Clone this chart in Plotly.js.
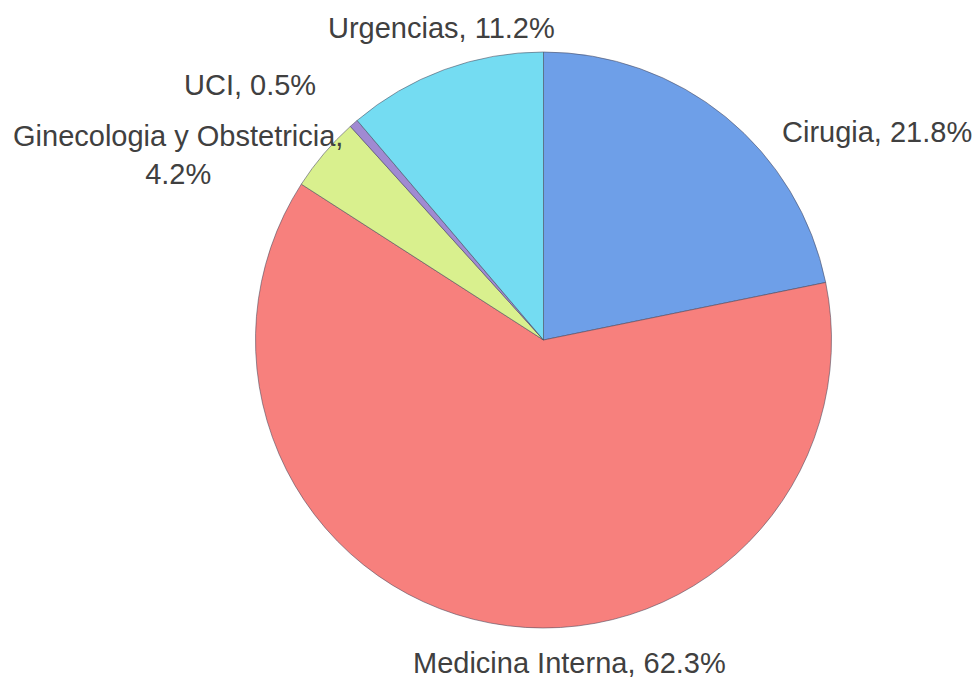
<!DOCTYPE html>
<html>
<head>
<meta charset="utf-8">
<script src="https://cdn.plot.ly/plotly-3.0.1.min.js"></script>
<style>html,body{margin:0;padding:0;background:#fff;}#chart{width:979px;height:678px;}</style>
</head>
<body>
<div id="chart"></div>
<script>
const labels = ["Cirugia", "Medicina Interna", "Ginecologia y Obstetricia", "UCI", "Urgencias"];
const values = [21.8, 62.3, 4.2, 0.5, 11.2];
const labelText = ["Cirugia, 21.8%", "Medicina Interna, 62.3%", "Ginecologia y Obstetricia,<br>4.2%", "UCI, 0.5%", "Urgencias, 11.2%"];
const colors = ["#6e9fe8", "#f7807d", "#d9f08e", "#a08ad2", "#74dcf2"];

// label placement (pixels in the 979x678 canvas)
const W = 979, H = 678;
const labelPos = [[877, 132], [569, 663], [178, 155], [250, 85], [441, 28]];

const annotations = labelText.map((t, i) => ({
  text: t,
  x: labelPos[i][0] / W,
  y: 1 - labelPos[i][1] / H,
  xref: "paper", yref: "paper",
  xanchor: "center", yanchor: "middle",
  showarrow: false,
  align: "center",
  font: {family: "Liberation Sans", size: 29, color: "#404040"}
}));

const cx = 543.5, cy = 340, r = 288;
const data = [{
  type: "pie",
  labels: labels,
  values: values,
  sort: false,
  direction: "clockwise",
  rotation: 0,
  textinfo: "none",
  hoverinfo: "label+percent",
  marker: {colors: colors, line: {color: "rgba(70,70,90,0.55)", width: 1}},
  domain: {x: [(cx - r) / W, (cx + r) / W], y: [1 - (cy + r) / H, 1 - (cy - r) / H]},
  showlegend: false
}];

const layout = {
  width: W, height: H,
  margin: {l: 0, r: 0, t: 0, b: 0},
  paper_bgcolor: "#ffffff",
  showlegend: false,
  annotations: annotations
};

Plotly.newPlot("chart", data, layout, {displayModeBar: false, staticPlot: true});
</script>
</body>
</html>
